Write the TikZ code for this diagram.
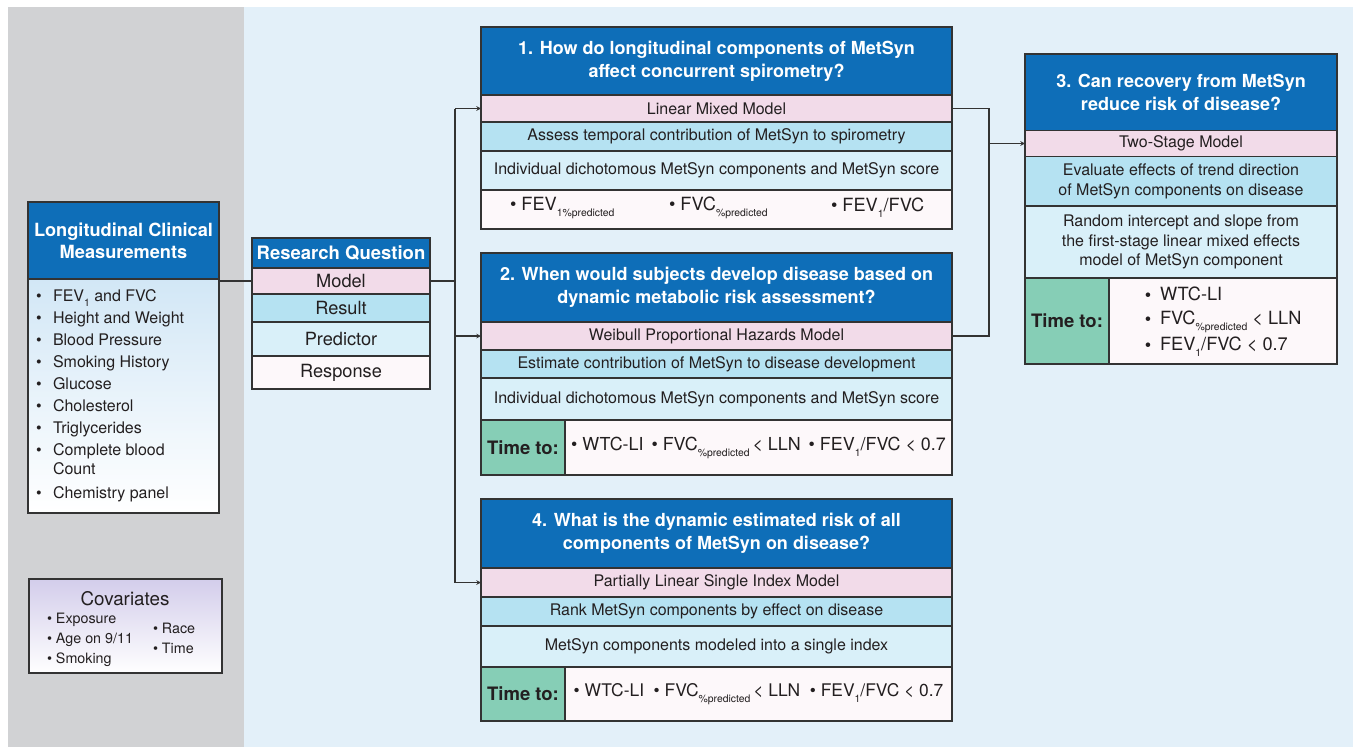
\documentclass[tikz,border=0pt]{standalone}
\usepackage{fontspec}
\setmainfont{TeX Gyre Heros}
\definecolor{hblue}{HTML}{0E6EB8}
\definecolor{cpink}{HTML}{F2DBE9}
\definecolor{cblue}{HTML}{B5E2F2}
\definecolor{clight}{HTML}{D9F0F9}
\definecolor{cwhite}{HTML}{FDF8FA}
\definecolor{cgreen}{HTML}{86CEB6}
\definecolor{edge}{HTML}{333333}
\definecolor{txt}{HTML}{231F20}
\definecolor{panelgray}{HTML}{D1D2D4}
\definecolor{panelblue}{HTML}{E3F0F9}
\definecolor{lbtop}{HTML}{D2E7F6}
\definecolor{lav}{HTML}{D3CDEB}
\newcommand{\lowtxt}[1]{\raisebox{-0.6ex}{\fontsize{10.4}{12}\selectfont #1}}

\begin{document}
\begin{tikzpicture}[x=1pt, y=-1pt, >=stealth,
  every node/.style={inner sep=0pt, outer sep=0pt, text=txt},
  hdr/.style={draw=edge, line width=1.2pt, fill=hblue, text=white, align=center,
    font=\fontsize{18}{23}\selectfont\bfseries},
  cell/.style={draw=edge, line width=1.2pt, align=center, font=\fontsize{16}{19.5}\selectfont},
  mrow/.style={cell, fill=cpink},
  rrow/.style={cell, fill=cblue},
  prow/.style={cell, fill=clight},
  orow/.style={cell, fill=cwhite},
  tcell/.style={cell, fill=cgreen, font=\fontsize{18.5}{22}\selectfont\bfseries},
  bigtxt/.style={font=\fontsize{18.2}{22}\selectfont},
  covtxt/.style={font=\fontsize{14.3}{17}\selectfont},
  link/.style={draw=edge, line width=1.1pt}]
  \useasboundingbox (0,0) rectangle (1356,747);
  \fill[panelgray] (8,7) rectangle (244,747);
  \fill[panelblue] (244,7) rectangle (1353,747);

  % measurements
  \node[hdr, minimum width=191pt, minimum height=77pt, font=\fontsize{18.2}{22}\selectfont\bfseries]
    (lhead) at (123.5,240.5) {Longitudinal Clinical\\Measurements};
  \node[draw=edge, line width=1.2pt, top color=lbtop, bottom color=white,
    minimum width=191pt, minimum height=234pt] (lbody) at (123.5,396) {};
  \foreach \y/\t [count=\i] in {298/{FEV\lowtxt{1} and FVC}, 320/Height and Weight,
      342/Blood Pressure, 364/Smoking History, 386/Glucose, 408/Cholesterol,
      430/Triglycerides, 452/Complete blood, 495/Chemistry panel} {
    \node[font=\fontsize{16}{19}\selectfont] (lb\i) at (39,\y) {\textbullet};
    \node[font=\fontsize{16}{19}\selectfont, anchor=west, text height=1.5ex, text depth=.25ex]
      (li\i) at (53,\y) {\t};
  }
  \node[font=\fontsize{16}{19}\selectfont, anchor=west, text height=1.5ex, text depth=.25ex]
    (lcount) at (53,471) {Count};

  % covariates
  \node[draw=edge, line width=1.2pt, top color=lav, bottom color=white,
    minimum width=193pt, minimum height=94pt] (cov) at (125.5,626) {};
  \node[font=\fontsize{18.8}{22}\selectfont] (covt) at (125,599) {Covariates};
  \node[covtxt, anchor=west] (cv1) at (47,620) {\textbullet\ Exposure};
  \node[covtxt, anchor=west] (cv2) at (47,640) {\textbullet\ Age on 9/11};
  \node[covtxt, anchor=west] (cv3) at (47,660) {\textbullet\ Smoking};
  \node[covtxt, anchor=west] (cv4) at (153,628) {\textbullet\ Race};
  \node[covtxt, anchor=west] (cv5) at (153,648) {\textbullet\ Time};

  % research question
  \node[hdr, minimum width=178pt, minimum height=30pt, font=\fontsize{18.5}{22}\selectfont\bfseries]
    (qhead) at (341,253) {Research Question};
  \node[mrow, bigtxt, minimum width=178pt, minimum height=26pt] (qm) at (341,281) {Model};
  \node[rrow, bigtxt, minimum width=178pt, minimum height=28pt] (qr) at (341,308) {Result};
  \node[prow, bigtxt, minimum width=178pt, minimum height=34pt] (qp) at (341,339) {Predictor};
  \node[orow, bigtxt, minimum width=178pt, minimum height=33pt] (qo) at (341,372.5) {Response};

  % question 1
  \node[hdr, minimum width=471pt, minimum height=68pt] (h1) at (716.5,61)
    {1. How do longitudinal components of MetSyn\\affect concurrent spirometry?};
  \node[mrow, minimum width=471pt, minimum height=27pt] (m1) at (716.5,108.5) {Linear Mixed Model};
  \node[rrow, minimum width=471pt, minimum height=29pt] (r1) at (716.5,136.5)
    {Assess temporal contribution of MetSyn to spirometry};
  \node[prow, minimum width=471pt, minimum height=39pt] (p1) at (716.5,170.5)
    {Individual dichotomous MetSyn components and MetSyn score};
  \node[orow, minimum width=471pt, minimum height=39pt] (o1) at (716.5,209.5) {};
  \node[bigtxt, anchor=west] (o1a) at (510,208) {\textbullet\ FEV\lowtxt{1\%predicted}};
  \node[bigtxt, anchor=west] (o1b) at (669,208) {\textbullet\ FVC\lowtxt{\%predicted}};
  \node[bigtxt, anchor=west] (o1c) at (831,208) {\textbullet\ FEV\lowtxt{1}/FVC};

  % question 2
  \node[hdr, minimum width=471pt, minimum height=69pt] (h2) at (716.5,287.5)
    {2. When would subjects develop disease based on\\dynamic metabolic risk assessment?};
  \node[mrow, minimum width=471pt, minimum height=28pt] (m2) at (716.5,336)
    {Weibull Proportional Hazards Model};
  \node[rrow, minimum width=471pt, minimum height=28pt] (r2) at (716.5,364)
    {Estimate contribution of MetSyn to disease development};
  \node[prow, minimum width=471pt, minimum height=42pt] (p2) at (716.5,399)
    {Individual dichotomous MetSyn components and MetSyn score};
  \node[tcell, minimum width=84pt, minimum height=54.5pt] (t2) at (523,447.75) {Time to:};
  \node[orow, font=\fontsize{17.9}{22}\selectfont, minimum width=387pt, minimum height=54.5pt] (o2) at (758.5,447.75)
    {\textbullet\ WTC-LI\ \,\textbullet\ FVC\lowtxt{\%predicted}\,< LLN\ \,\textbullet\ FEV\lowtxt{1}/FVC < 0.7};

  % question 3
  \node[hdr, minimum width=312pt, minimum height=76.5pt] (h3) at (1181,92.25)
    {3. Can recovery from MetSyn\\reduce risk of disease?};
  \node[mrow, minimum width=312pt, minimum height=26pt] (m3) at (1181,143.5) {Two-Stage Model};
  \node[rrow, minimum width=312pt, minimum height=49.5pt] (r3) at (1181,181.25)
    {Evaluate effects of trend direction\\of MetSyn components on disease};
  \node[prow, minimum width=312pt, minimum height=72pt] (p3) at (1181,242)
    {Random intercept and slope from\\the first-stage linear mixed effects\\model of MetSyn component};
  \node[tcell, minimum width=84pt, minimum height=86pt] (t3) at (1067,321) {Time to:};
  \node[orow, minimum width=228pt, minimum height=86pt] (o3) at (1223,321) {};
  \foreach \y/\t [count=\i] in {297/WTC-LI, 321/{FVC\lowtxt{\%predicted} < LLN}, 347/{FEV\lowtxt{1}/FVC < 0.7}} {
    \node[bigtxt] (b3\i) at (1148,\y) {\textbullet};
    \node[bigtxt, anchor=west, text height=1.5ex, text depth=.25ex] (i3\i) at (1160,\y) {\t};
  }

  % question 4
  \node[hdr, minimum width=471pt, minimum height=69pt] (h4) at (716.5,533.5)
    {4. What is the dynamic estimated risk of all\\components of MetSyn on disease?};
  \node[mrow, minimum width=471pt, minimum height=29pt] (m4) at (716.5,582.5)
    {Partially Linear Single Index Model};
  \node[rrow, minimum width=471pt, minimum height=29pt] (r4) at (716.5,611.5)
    {Rank MetSyn components by effect on disease};
  \node[prow, minimum width=471pt, minimum height=41pt] (p4) at (716.5,646.5)
    {MetSyn components modeled into a single index};
  \node[tcell, minimum width=84pt, minimum height=54pt] (t4) at (523,694) {Time to:};
  \node[orow, font=\fontsize{17.4}{22}\selectfont, minimum width=387pt, minimum height=54pt] (o4) at (758.5,694)
    {\textbullet\ WTC-LI\ \ \textbullet\ FVC\lowtxt{\%predicted}\,< LLN\ \ \textbullet\ FEV\lowtxt{1}/FVC < 0.7};

  % connectors
  \coordinate (jl) at (455,281);
  \coordinate (jr) at (989,145);
  \draw[link] (lbody.east |- qm.west) -- (qm.west);
  \draw[link] (qm.east) -- (jl);
  \draw[link] (jl |- m1.west) -- (jl |- m4.west);
  \draw[link, ->] (jl |- m1.west) -- (m1.west);
  \draw[link, ->] (jl |- m2.west) -- (m2.west);
  \draw[link, ->] (jl |- m4.west) -- (m4.west);
  \draw[link] (m1.east) -- (m1.east -| jr) -- (m2.east -| jr) -- (m2.east);
  \draw[link, ->] (jr |- m3.west) -- (m3.west);
\end{tikzpicture}
\end{document}
